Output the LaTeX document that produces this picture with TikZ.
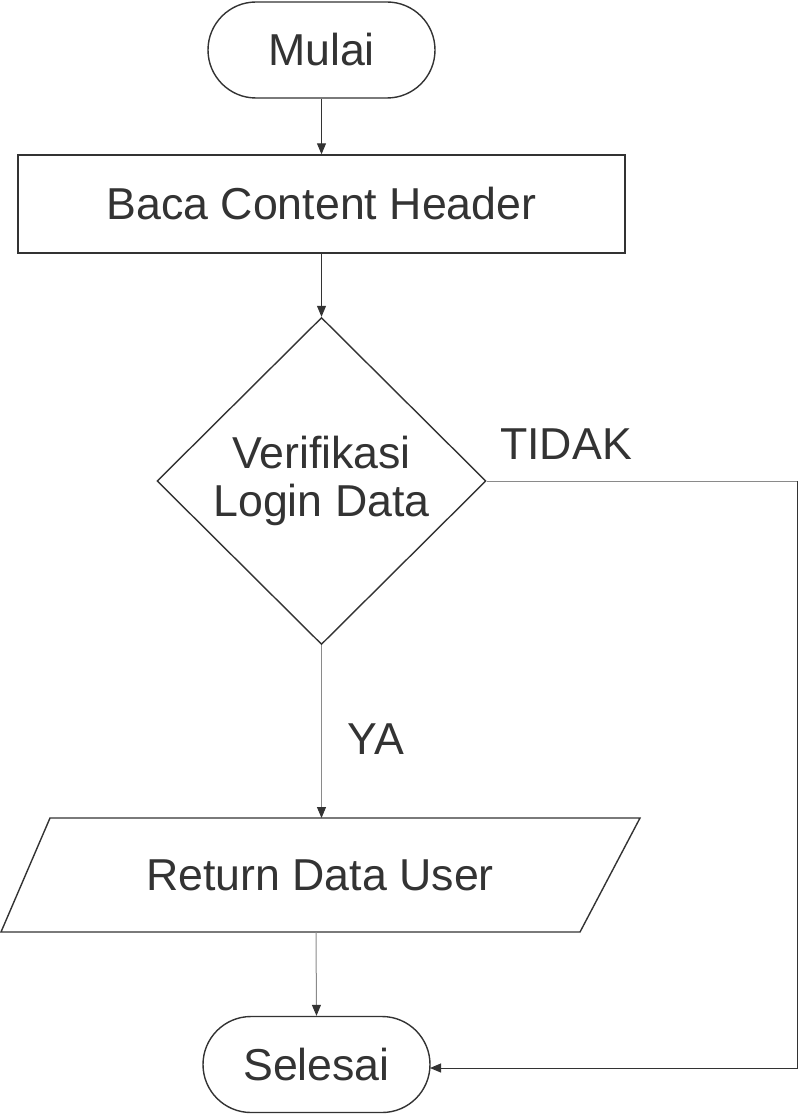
\documentclass[tikz,border=0pt]{standalone}
\usepackage{fontspec}
\setmainfont{Liberation Sans}
\usetikzlibrary{shapes.misc,shapes.geometric,arrows.meta}
\definecolor{ink}{HTML}{333333}
\definecolor{lineg}{HTML}{8A8A8A}
\begin{document}
\begin{tikzpicture}[x=1pt,y=-1pt,
  txt/.style={text=ink,font=\fontsize{44.7}{48}\selectfont},
  term/.style={rounded rectangle,draw=ink,line width=1.4pt,minimum width=227pt,minimum height=96pt,inner sep=0pt,txt},
  procbox/.style={rectangle,draw=ink,line width=1.4pt,minimum width=607pt,minimum height=98pt,inner sep=0pt,txt},
  decbox/.style={diamond,draw=ink,line width=1.4pt,minimum width=329pt,minimum height=327pt,inner sep=0pt,align=center,txt},
  conn/.style={draw=ink,line width=1pt,-{Triangle[length=11pt,width=9pt]}},
  connl/.style={draw=lineg,line width=1pt,-{Triangle[length=11pt,width=9pt,color=ink]}},
  lbl/.style={txt}]
\useasboundingbox (0,0) rectangle (800,1115);
\node[term] (start) at (321.5,50) {Mulai};
\node[procbox] (read) at (321.5,204) {Baca Content Header};
\node[decbox] (dec) at (321.5,481) {Verifikasi\\Login Data};
% parallelogram
\draw[draw=ink,line width=1.4pt] (50,818) -- (640,818) -- (580,932) -- (1,932) -- cycle;
\node[txt,inner sep=0pt] (ret) at (320,875) {Return Data User};
\coordinate (rettop) at (321.5,818);
\coordinate (retbot) at (316,932);
\node[term] (end) at (316.5,1064.5) {Selesai};
\coordinate (cr1) at (797,481);
\coordinate (cr2) at (797,1068);
\coordinate (endin) at (430,1068);
\node[lbl] (tidak) at (566,444) {TIDAK};
\node[lbl] (ya) at (376,739) {YA};
\draw[conn] (start.south) -- (read.north);
\draw[conn] (read.south) -- (dec.north);
\draw[connl] (dec.south) -- (rettop);
\draw[connl] (retbot) -- (end.north);
\draw[draw=lineg,line width=1pt] (dec.east) -- (cr1);
\draw[conn] (cr1) -- (cr2) -- (endin);
\end{tikzpicture}
\end{document}
